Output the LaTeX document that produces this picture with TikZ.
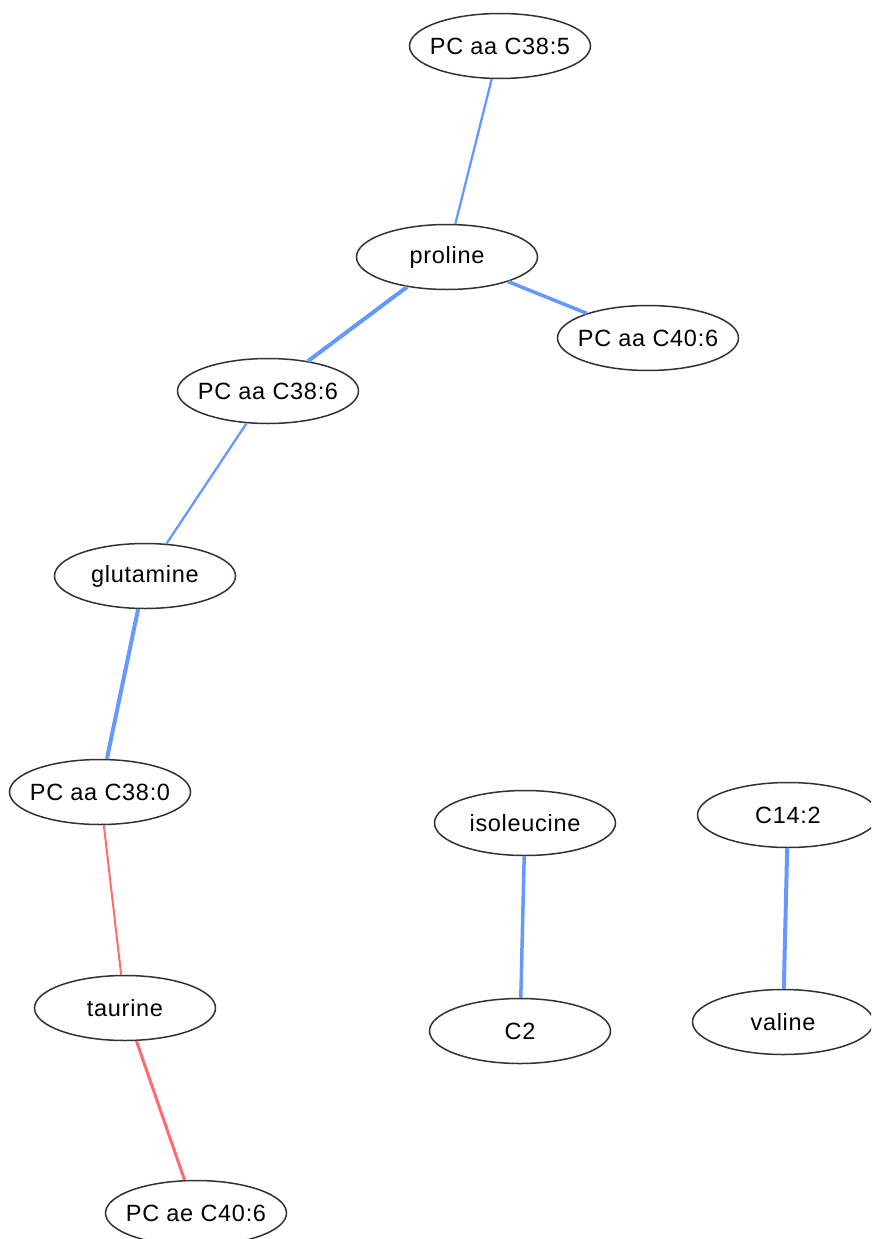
\documentclass[tikz,border=0pt]{standalone}
\usepackage{fontspec}
\setmainfont{Liberation Sans}[LetterSpace=3]
\usetikzlibrary{shapes.geometric}
\definecolor{edgeblue}{RGB}{102,153,255}
\definecolor{edgered}{RGB}{255,108,108}
\definecolor{rim}{RGB}{50,50,50}
\newcommand{\mlabel}[1]{\makebox[0pt]{\raisebox{-2pt}{#1}}}
\tikzset{
  mnode/.style={ellipse, draw=rim, line width=1.5pt, fill=white,
    minimum width=181pt, minimum height=65pt, inner sep=0pt,
    font=\fontsize{23.5}{27}\selectfont},
  poslink/.style={draw=edgeblue},
  neglink/.style={draw=edgered},
}
\begin{document}
\begin{tikzpicture}[x=1pt,y=-1pt]
  \useasboundingbox (0,0) rectangle (871,1239);
  \clip (0,0) rectangle (871,1239);
  % metabolite nodes
  \node[mnode] (pc385) at (500,46) {\mlabel{PC aa C38:5}};
  \node[mnode] (pro) at (447,257) {\mlabel{proline}};
  \node[mnode] (pc406) at (648,338) {\mlabel{PC aa C40:6}};
  \node[mnode] (pc386) at (268,391) {\mlabel{PC aa C38:6}};
  \node[mnode] (gln) at (145,576) {\mlabel{glutamine}};
  \node[mnode] (pc380) at (100,792) {\mlabel{PC aa C38:0}};
  \node[mnode] (tau) at (125,1008) {\mlabel{taurine}};
  \node[mnode] (pcae406) at (196,1213) {\mlabel{PC ae C40:6}};
  \node[mnode] (ile) at (525,823) {\mlabel{isoleucine}};
  \node[mnode] (c2) at (520,1031) {\mlabel{C2}};
  \node[mnode] (c142) at (788,815) {\mlabel{C14:2}};
  \node[mnode] (val) at (783,1022) {\mlabel{valine}};
  % correlation edges
  \draw[poslink, line width=2.3pt] (pc385) -- (pro);
  \draw[poslink, line width=3.5pt] (pro) -- (pc406);
  \draw[poslink, line width=4pt] (pro) -- (pc386);
  \draw[poslink, line width=2.3pt] (pc386) -- (gln);
  \draw[poslink, line width=4pt] (gln) -- (pc380);
  \draw[neglink, line width=2pt] (pc380) -- (tau);
  \draw[neglink, line width=3pt] (tau) -- (pcae406);
  \draw[poslink, line width=3.5pt] (ile) -- (c2);
  \draw[poslink, line width=4pt] (c142) -- (val);
\end{tikzpicture}
\end{document}
